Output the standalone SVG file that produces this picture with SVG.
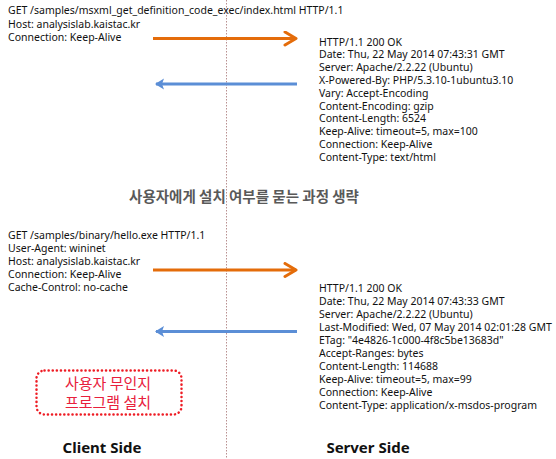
<svg xmlns="http://www.w3.org/2000/svg" width="556" height="459" viewBox="0 0 556 459">
<style>
.t{font-family:"Noto Sans","Noto Sans CJK KR",sans-serif;font-size:10.5px;fill:#111}
.h{font-family:"Noto Sans CJK KR",sans-serif;font-size:14.5px;font-weight:bold;fill:#595959}
.r{font-family:"Noto Sans CJK KR",sans-serif;font-size:15px;fill:#e8203c}
.lab{font-family:"Noto Sans","Noto Sans CJK KR",sans-serif;font-size:15px;font-weight:bold;fill:#111}
.or{stroke:#e46c0a;stroke-width:3;fill:none}
.bl{stroke:#5b8ed6;stroke-width:3;fill:none}
</style>
<defs>
<marker id="ao" markerUnits="userSpaceOnUse" markerWidth="16" markerHeight="18" refX="13" refY="8" orient="auto">
<path d="M2,1.5 L13,8 L2,14.5" fill="none" stroke="#e46c0a" stroke-width="3" stroke-linecap="round" stroke-linejoin="round"/>
</marker>
<marker id="ab" markerUnits="userSpaceOnUse" markerWidth="14" markerHeight="14" refX="11" refY="7" orient="auto">
<path d="M3,1.5 L12,7 L3,12.5 L5,7 Z" fill="#5b8ed6"/>
</marker>
</defs>
<g id="divider">
<line x1="226.5" y1="0" x2="226.5" y2="459" stroke="#b89090" stroke-width="1" stroke-dasharray="1.5,1.5"/>
</g>
<g id="connectors">
<line class="or" x1="153" y1="38.5" x2="296" y2="38.5" marker-end="url(#ao)"/>
<line class="bl" x1="297" y1="84" x2="156" y2="84" marker-end="url(#ab)"/>
<line class="or" x1="153" y1="270" x2="296" y2="270" marker-end="url(#ao)"/>
<line class="bl" x1="297" y1="331.5" x2="156" y2="331.5" marker-end="url(#ab)"/>
</g>
<g id="request1">
<text class="t" x="8" y="14">GET /samples/msxml_get_definition_code_exec/index.html HTTP/1.1</text>
<text class="t" x="8" y="27.5">Host: analysislab.kaistac.kr</text>
<text class="t" x="8" y="41">Connection: Keep-Alive</text>
</g>
<g id="response1">
<text class="t" x="319" y="45.5">HTTP/1.1 200 OK</text>
<text class="t" x="319" y="58.3">Date: Thu, 22 May 2014 07:43:31 GMT</text>
<text class="t" x="319" y="71.1">Server: Apache/2.2.22 (Ubuntu)</text>
<text class="t" x="319" y="83.9">X-Powered-By: PHP/5.3.10-1ubuntu3.10</text>
<text class="t" x="319" y="96.7">Vary: Accept-Encoding</text>
<text class="t" x="319" y="109.5">Content-Encoding: gzip</text>
<text class="t" x="319" y="122.3">Content-Length: 6524</text>
<text class="t" x="319" y="135.1">Keep-Alive: timeout=5, max=100</text>
<text class="t" x="319" y="147.9">Connection: Keep-Alive</text>
<text class="t" x="319" y="160.7">Content-Type: text/html</text>
</g>
<g id="skip-note">
<text class="h" x="244" y="202" text-anchor="middle">사용자에게 설치 여부를 묻는 과정 생략</text>
</g>
<g id="request2">
<text class="t" x="8" y="239">GET /samples/binary/hello.exe HTTP/1.1</text>
<text class="t" x="8" y="252">User-Agent: wininet</text>
<text class="t" x="8" y="265">Host: analysislab.kaistac.kr</text>
<text class="t" x="8" y="278">Connection: Keep-Alive</text>
<text class="t" x="8" y="291">Cache-Control: no-cache</text>
</g>
<g id="response2">
<text class="t" x="319" y="292">HTTP/1.1 200 OK</text>
<text class="t" x="319" y="305">Date: Thu, 22 May 2014 07:43:33 GMT</text>
<text class="t" x="319" y="318">Server: Apache/2.2.22 (Ubuntu)</text>
<text class="t" x="319" y="331">Last-Modified: Wed, 07 May 2014 02:01:28 GMT</text>
<text class="t" x="319" y="344">ETag: "4e4826-1c000-4f8c5be13683d"</text>
<text class="t" x="319" y="357">Accept-Ranges: bytes</text>
<text class="t" x="319" y="370">Content-Length: 114688</text>
<text class="t" x="319" y="383">Keep-Alive: timeout=5, max=99</text>
<text class="t" x="319" y="396">Connection: Keep-Alive</text>
<text class="t" x="319" y="409">Content-Type: application/x-msdos-program</text>
</g>
<g id="warning">
<rect x="36.5" y="370.5" width="145" height="44" rx="8" fill="none" stroke="#ee1c24" stroke-width="2.5" stroke-dasharray="0.1,4" stroke-linecap="round"/>
<text class="r" x="108" y="388.5" text-anchor="middle">사용자 무인지</text>
<text class="r" x="108" y="407.5" text-anchor="middle">프로그램 설치</text>
</g>
<g id="client-label">
<text class="lab" x="102" y="453" text-anchor="middle">Client Side</text>
</g>
<g id="server-label">
<text class="lab" x="368" y="453" text-anchor="middle">Server Side</text>
</g>
</svg>
